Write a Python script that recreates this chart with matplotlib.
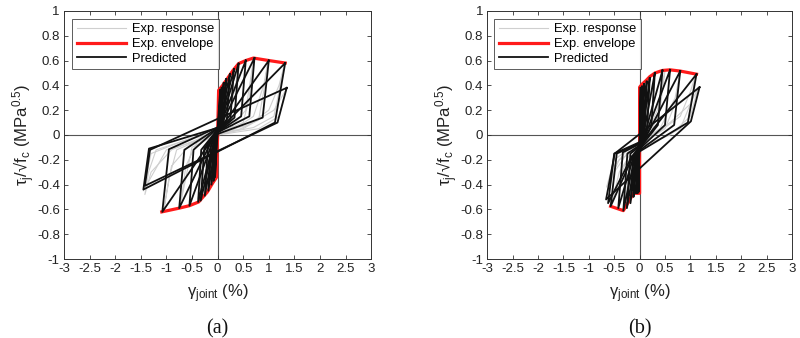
import matplotlib
matplotlib.use("Agg")
import matplotlib.pyplot as plt
from matplotlib.lines import Line2D

plt.rcParams['font.family'] = ['Liberation Sans', 'DejaVu Sans']
plt.rcParams['mathtext.default'] = 'regular'

# ---------------- data ----------------
x_ticks = [-3, -2.5, -2, -1.5, -1, -0.5, 0, 0.5, 1, 1.5, 2, 2.5, 3]
x_tick_labels = ['-3', '-2.5', '-2', '-1.5', '-1', '-0.5', '0', '0.5', '1', '1.5', '2', '2.5', '3']
y_ticks = [-1, -0.8, -0.6, -0.4, -0.2, 0, 0.2, 0.4, 0.6, 0.8, 1]
y_tick_labels = ['-1', '-0.8', '-0.6', '-0.4', '-0.2', '0', '0.2', '0.4', '0.6', '0.8', '1']

# Panel (a) experimental envelope
env_a_pos_x = [0, 0.02, 0.10, 0.20, 0.30, 0.41, 0.55, 0.70, 1.00, 1.32]
env_a_pos_y = [0, 0.36, 0.40, 0.46, 0.52, 0.575, 0.60, 0.62, 0.60, 0.58]
env_a_neg_x = [0, -0.02, -0.10, -0.20, -0.37, -0.55, -0.75, -1.09]
env_a_neg_y = [0, -0.34, -0.39, -0.46, -0.54, -0.57, -0.59, -0.62]

# Panel (a) predicted cycles, vertices in order:
# peak+, unload+, pinch-, peak-, unload-, pinch+  (x, y pairs)
pred_a = [
    [0.05, 0.36, 0.03, 0.08, 0.00, 0.02, -0.05, -0.34, -0.03, -0.06, 0.00, 0.05],
    [0.08, 0.38, 0.05, 0.09, 0.00, 0.02, -0.08, -0.37, -0.05, -0.07, 0.00, 0.05],
    [0.12, 0.42, 0.08, 0.10, -0.01, 0.02, -0.12, -0.40, -0.08, -0.08, 0.01, 0.05],
    [0.17, 0.45, 0.12, 0.11, -0.01, 0.02, -0.18, -0.45, -0.13, -0.09, 0.01, 0.05],
    [0.24, 0.49, 0.18, 0.12, -0.02, 0.02, -0.25, -0.49, -0.19, -0.10, 0.02, 0.06],
    [0.32, 0.53, 0.25, 0.13, -0.02, 0.02, -0.33, -0.53, -0.26, -0.11, 0.02, 0.06],
    [0.41, 0.575, 0.33, 0.14, -0.03, 0.01, -0.38, -0.54, -0.32, -0.12, 0.03, 0.06],
    [0.55, 0.60, 0.46, 0.15, -0.04, 0.01, -0.55, -0.57, -0.47, -0.12, 0.04, 0.07],
    [0.72, 0.62, 0.62, 0.15, -0.05, 0.01, -0.75, -0.59, -0.65, -0.12, 0.05, 0.07],
    [1.00, 0.60, 0.88, 0.14, -0.05, 0.00, -1.08, -0.62, -0.95, -0.115, 0.10, 0.08],
    [1.32, 0.58, 1.12, 0.10, 0.00, -0.135, -1.45, -0.44, -1.34, -0.11, 0.10, 0.07],
    [1.35, 0.38, 1.17, 0.10, 0.00, -0.13, -1.42, -0.41, -1.32, -0.12, 0.00, 0.13],
]

# Panel (a) experimental response loops (x list, y list)
exp_a = [
    ([1.30, 1.20, 1.10, 0.70, 0.20, -0.30, -0.90, -1.30, -1.42, -1.35, -1.20, -0.60, 0.00, 0.60, 1.00, 1.20, 1.30],
     [0.56, 0.35, 0.15, 0.06, 0.02, -0.02, -0.12, -0.30, -0.48, -0.30, -0.12, -0.04, 0.02, 0.08, 0.20, 0.40, 0.56]),
    ([0.98, 0.90, 0.80, 0.40, 0.00, -0.50, -0.90, -1.05, -0.95, -0.80, -0.30, 0.30, 0.70, 0.90, 0.98],
     [0.58, 0.35, 0.12, 0.04, 0.00, -0.06, -0.25, -0.60, -0.35, -0.12, -0.03, 0.04, 0.15, 0.40, 0.58]),
    ([0.70, 0.62, 0.50, 0.00, -0.50, -0.72, -0.62, -0.40, 0.20, 0.55, 0.70],
     [0.60, 0.30, 0.10, 0.01, -0.10, -0.55, -0.25, -0.06, 0.03, 0.20, 0.60]),
    ([0.42, 0.35, 0.20, 0.00, -0.25, -0.38, -0.30, -0.10, 0.20, 0.42],
     [0.56, 0.20, 0.05, 0.00, -0.10, -0.52, -0.20, -0.03, 0.08, 0.56]),
    ([0.20, 0.12, -0.15, -0.20, -0.10, 0.15, 0.20],
     [0.46, 0.10, -0.10, -0.45, -0.10, 0.10, 0.46]),
    ([1.33, 1.20, 0.80, 0.00, -1.00, -1.45, -1.30, -0.50, 0.50, 1.10, 1.33],
     [0.36, 0.15, 0.05, 0.00, -0.12, -0.45, -0.15, -0.02, 0.05, 0.20, 0.36]),
]

# Panel (b) experimental envelope
env_b_pos_x = [0, 0.0, 0.05, 0.13, 0.20, 0.305, 0.45, 0.60, 0.80, 1.12]
env_b_pos_y = [0, 0.385, 0.41, 0.44, 0.47, 0.50, 0.52, 0.525, 0.515, 0.49]
env_b_neg_x = [0, 0.0, -0.12, -0.32, -0.57]
env_b_neg_y = [0, -0.47, -0.47, -0.61, -0.575]

pred_b = [
    [0.02, 0.38, 0.01, 0.03, -0.01, -0.12, -0.02, -0.46, -0.01, -0.20, 0.00, -0.10],
    [0.05, 0.39, 0.03, 0.03, -0.02, -0.12, -0.04, -0.47, -0.02, -0.19, 0.00, -0.10],
    [0.09, 0.41, 0.06, 0.04, -0.03, -0.13, -0.07, -0.47, -0.04, -0.18, 0.01, -0.09],
    [0.14, 0.43, 0.10, 0.05, -0.04, -0.13, -0.12, -0.50, -0.08, -0.17, 0.02, -0.09],
    [0.20, 0.46, 0.15, 0.06, -0.05, -0.14, -0.18, -0.55, -0.12, -0.16, 0.03, -0.08],
    [0.30, 0.50, 0.23, 0.07, -0.06, -0.14, -0.25, -0.59, -0.18, -0.15, 0.04, -0.08],
    [0.45, 0.52, 0.36, 0.08, -0.08, -0.15, -0.32, -0.61, -0.24, -0.15, 0.05, -0.07],
    [0.60, 0.525, 0.50, 0.08, -0.10, -0.15, -0.42, -0.59, -0.33, -0.14, 0.06, -0.06],
    [0.80, 0.515, 0.68, 0.08, -0.12, -0.16, -0.57, -0.575, -0.45, -0.15, 0.08, -0.05],
    [1.12, 0.49, 0.95, 0.10, -0.15, -0.17, -0.62, -0.55, -0.50, -0.15, 0.10, -0.04],
    [1.18, 0.385, 1.01, 0.11, 0.00, -0.27, -0.66, -0.52, -0.49, -0.15, 0.00, 0.007],
]

exp_b = [
    ([1.10, 1.00, 0.80, 0.30, -0.20, -0.50, -0.62, -0.50, -0.20, 0.30, 0.80, 1.00, 1.10],
     [0.48, 0.25, 0.05, -0.05, -0.12, -0.30, -0.45, -0.25, -0.10, 0.00, 0.15, 0.35, 0.48]),
    ([0.80, 0.70, 0.50, 0.00, -0.30, -0.55, -0.40, -0.10, 0.40, 0.70, 0.80],
     [0.51, 0.25, 0.05, -0.08, -0.25, -0.55, -0.30, -0.10, 0.05, 0.30, 0.51]),
    ([0.50, 0.40, 0.20, -0.10, -0.30, -0.20, 0.10, 0.35, 0.50],
     [0.52, 0.20, 0.00, -0.15, -0.58, -0.25, -0.02, 0.20, 0.52]),
    ([1.15, 1.00, 0.60, 0.00, -0.40, -0.65, -0.50, 0.00, 0.60, 1.00, 1.15],
     [0.38, 0.15, 0.00, -0.10, -0.20, -0.42, -0.20, -0.05, 0.10, 0.25, 0.38]),
]

panel_labels = ['(a)', '(b)']
legend_labels = ['Exp. response', 'Exp. envelope', 'Predicted']

# ---------------- styles ----------------
GRAY = '#cfcfcf'
RED = '#ff1a1a'
BLACK = '#111111'
AXC = '#333333'

fig = plt.figure(figsize=(8.0, 3.38), dpi=100)
ax_a = fig.add_axes([0.080, 0.2337, 0.384, 0.734])
ax_b = fig.add_axes([0.609, 0.2337, 0.381, 0.734])

panels = [
    (ax_a, exp_a, env_a_pos_x, env_a_pos_y, env_a_neg_x, env_a_neg_y, pred_a, 0.026),
    (ax_b, exp_b, env_b_pos_x, env_b_pos_y, env_b_neg_x, env_b_neg_y, pred_b, 0.023),
]

for i, (ax, exp, epx, epy, enx, eny, pred, legx) in enumerate(panels):
    ax.axhline(0, color='#555555', lw=0.8, zorder=1)
    ax.axvline(0, color='#555555', lw=0.8, zorder=1)
    for xs, ys in exp:
        ax.plot(xs, ys, color=GRAY, lw=0.8, zorder=2)
    ax.plot(epx, epy, color=RED, lw=2.3, zorder=3, solid_joinstyle='round')
    ax.plot(enx, eny, color=RED, lw=2.3, zorder=3, solid_joinstyle='round')
    for c in pred:
        xs = [c[0], c[2], c[4], c[6], c[8], c[10], c[0]]
        ys = [c[1], c[3], c[5], c[7], c[9], c[11], c[1]]
        ax.plot(xs, ys, color=BLACK, lw=1.3, zorder=4)

    ax.set_xlim(-3, 3)
    ax.set_ylim(-1, 1)
    ax.set_xticks(x_ticks)
    ax.set_xticklabels(x_tick_labels)
    ax.set_yticks(y_ticks)
    ax.set_yticklabels(y_tick_labels)
    ax.tick_params(direction='in', length=3, width=0.6, top=True, right=True,
                   labelsize=9.5, colors=AXC, labelcolor='#222222', pad=3)
    for s in ax.spines.values():
        s.set_color(AXC)
        s.set_linewidth(0.7)

    ax.set_xlabel(r'$\gamma_{joint}$ (%)', fontsize=12, color='#222222', labelpad=5)
    ax.set_ylabel(r'$\tau_j$/√f$_c$ (MPa$^{0.5}$)', fontsize=12, color='#222222', labelpad=0)

    handles = [Line2D([], [], color=GRAY, lw=0.8),
               Line2D([], [], color=RED, lw=2.3),
               Line2D([], [], color=BLACK, lw=1.3)]
    leg = ax.legend(handles, legend_labels, loc='upper left', bbox_to_anchor=(legx, 0.968),
                    fontsize=9.3, frameon=True, fancybox=False, borderpad=0.35,
                    handlelength=3.8, handletextpad=0.5, labelspacing=0.2,
                    borderaxespad=0.0)
    leg.get_frame().set_edgecolor('#333333')
    leg.get_frame().set_linewidth(0.7)
    leg.set_zorder(10)

    ax.text(0.5, -0.28, panel_labels[i], transform=ax.transAxes, ha='center', va='center',
            fontsize=14.5, family=['Liberation Serif', 'DejaVu Serif'], color='#111111')

fig.savefig('out.png', dpi=100)
